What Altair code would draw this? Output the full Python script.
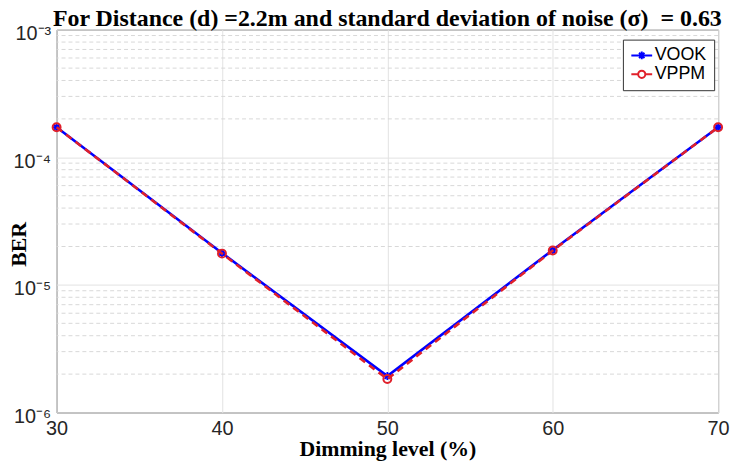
import altair as alt
import pandas as pd

# ---- data ----
dimming = [30, 40, 50, 60, 70]
vook = [1.72e-4, 1.78e-5, 1.93e-6, 1.88e-5, 1.72e-4]
vppm = [1.72e-4, 1.76e-5, 1.83e-6, 1.86e-5, 1.72e-4]
series_names = ["VOOK", "VPPM"]

x_ticks = [30, 40, 50, 60, 70]
y_ticks = [1e-6, 1e-5, 1e-4, 1e-3]
y_tick_labels = ["10⁻⁶", "10⁻⁵", "10⁻⁴", "10⁻³"]
minor_mult = [2, 3, 4, 5, 6, 7, 8, 9]
minor_decades = [1e-6, 1e-5, 1e-4]

title_text = "For Distance (d) =2.2m and standard deviation of noise (σ)\u00a0 = 0.63"

BLUE = "#0000ff"
RED = "#e0202a"

df = pd.DataFrame({
    "dimming": dimming * 2,
    "ber": vook + vppm,
    "series": [series_names[0]] * len(dimming) + [series_names[1]] * len(dimming),
})
minor_df = pd.DataFrame({"ber": [m * d for d in minor_decades for m in minor_mult]})

# label expression built from the tick arrays
expr = f"'{y_tick_labels[-1]}'"
for v, lab in reversed(list(zip(y_ticks[:-1], y_tick_labels[:-1]))):
    expr = f"datum.value < {v * 3:g} ? '{lab}' : " + expr

x_enc = alt.X(
    "dimming:Q",
    scale=alt.Scale(domain=[30, 70], nice=False),
    axis=alt.Axis(
        values=x_ticks, format="d", title="Dimming level (%)",
        titleFont="Liberation Serif", titleFontSize=22, titleFontWeight="bold",
        titleColor="black", titleY=43, titleBaseline="alphabetic",
        labelFont="Liberation Sans", labelFontSize=20, labelColor="#262626",
        labelPadding=6, labelFlush=False, labelBound=False, labelOverlap=False,
        ticks=False, domain=False, grid=True, gridColor="#e2e2e2", gridWidth=1,
    ),
)
y_enc = alt.Y(
    "ber:Q",
    scale=alt.Scale(type="log", domain=[1e-6, 1e-3], nice=False),
    axis=alt.Axis(
        values=y_ticks, labelExpr=expr, title="BER",
        titleFont="Liberation Serif", titleFontSize=22, titleFontWeight="bold",
        titleColor="black", titleAngle=270, titleX=-31, titleY=216,
        titleAlign="center", titleBaseline="alphabetic",
        labelFont="Liberation Sans", labelFontSize=20, labelColor="#262626",
        labelPadding=6, labelBaseline="alphabetic", labelOffset=10,
        labelFlush=False, labelBound=False, labelOverlap=False,
        ticks=False, domain=False, grid=True, gridColor="#e2e2e2", gridWidth=1,
    ),
)

ASTER = "M-1,0L1,0M0,-1L0,1M-0.7,-0.7L0.7,0.7M-0.7,0.7L0.7,-0.7"
LEG_VOOK = ("M-3.5,0L3.5,0M-1.3,0L1.3,0M0,-1.3L0,1.3"
            "M-0.9,-0.9L0.9,0.9M-0.9,0.9L0.9,-0.9")
LEG_VPPM = ("M-3.5,0L-1.2,0M1.2,0L3.5,0"
            "M-1.2,0A1.2,1.2 0 1,0 1.2,0A1.2,1.2 0 1,0 -1.2,0")

minor_rules = alt.Chart(minor_df).mark_rule(
    color="#d8d8d8", strokeWidth=1, strokeDash=[4, 3]
).encode(y=y_enc)

base = alt.Chart(df)
line_vook = base.transform_filter(alt.datum.series == "VOOK").mark_line(
    color=BLUE, strokeWidth=2.6
).encode(x=x_enc, y=y_enc)
pts_vook = base.transform_filter(alt.datum.series == "VOOK").mark_point(
    shape=ASTER, size=64, filled=False, color=BLUE, strokeWidth=1.8, opacity=1
).encode(x=x_enc, y=y_enc)
line_vppm = base.transform_filter(alt.datum.series == "VPPM").mark_line(
    color=RED, strokeWidth=2.6, strokeDash=[7, 5]
).encode(x=x_enc, y=y_enc)
pts_vppm = base.transform_filter(alt.datum.series == "VPPM").mark_point(
    shape="circle", size=64, filled=False, color=RED, strokeWidth=2, opacity=1
).encode(x=x_enc, y=y_enc)

leg = dict(
    title=None, orient="none", legendX=571, legendY=10,
    labelFont="Liberation Sans", labelFontSize=18, labelColor="black",
    symbolSize=36, symbolStrokeWidth=2, symbolOffset=3, labelOffset=4,
    rowPadding=1, padding=7, strokeColor="#333333", fillColor="white",
    cornerRadius=0,
)
legend_layer = base.transform_filter("false").mark_point(
    filled=False, opacity=1
).encode(
    x=x_enc, y=y_enc,
    color=alt.Color("series:N", scale=alt.Scale(domain=series_names, range=[BLUE, RED]),
                    legend=alt.Legend(**leg)),
    shape=alt.Shape("series:N", scale=alt.Scale(domain=series_names, range=[LEG_VOOK, LEG_VPPM]),
                    legend=alt.Legend(**leg)),
)

chart = alt.layer(
    minor_rules, line_vook, pts_vook, line_vppm, pts_vppm, legend_layer
).properties(
    width=667, height=386,
    autosize=alt.AutoSizeParams(type="none"),
    padding={"left": 49, "top": 20, "right": 14, "bottom": 47},
    title=alt.Title(
        title_text, font="Liberation Serif", fontSize=24.1, fontWeight="bold",
        color="black", anchor="middle", frame="group", offset=4, dy=11,
    ),
    background="white",
).configure_view(stroke="#4d4d4d", strokeWidth=1)

chart.save("out.html", embed_options={"renderer": "svg", "actions": False})
